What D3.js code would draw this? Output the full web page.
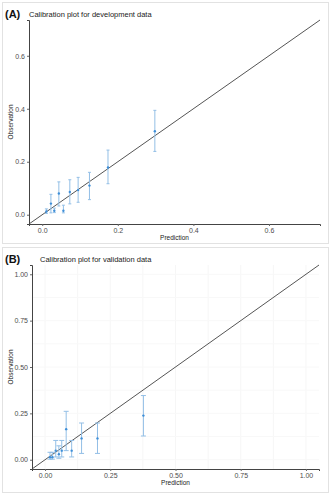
<!DOCTYPE html>
<html lang="en">
<head>
<meta charset="utf-8">
<script src="https://d3js.org/d3.v7.min.js"></script>
<style>
  body { margin: 0; background: #fff; }
  text { font-family: "Liberation Sans", Arial, sans-serif; }
</style>
</head>
<body>
<script>
// development data (A)
var devPred = [0.011, 0.023, 0.032, 0.044, 0.056, 0.073, 0.095, 0.125, 0.174, 0.298];
var devObs  = [0.012, 0.042, 0.015, 0.080, 0.015, 0.086, 0.093, 0.110, 0.178, 0.315];
var devLo   = [0.005, 0.007, 0.008, 0.033, 0.007, 0.041, 0.047, 0.057, 0.117, 0.239];
var devHi   = [0.022, 0.077, 0.025, 0.124, 0.036, 0.132, 0.141, 0.160, 0.244, 0.394];
var devTicks = [0, 0.2, 0.4, 0.6];

// validation data (B)
var valPred = [0.019, 0.028, 0.041, 0.053, 0.064, 0.081, 0.102, 0.140, 0.201, 0.377];
var valObs  = [0.014, 0.014, 0.049, 0.030, 0.049, 0.165, 0.049, 0.115, 0.115, 0.238];
var valLo   = [0.003, 0.003, 0.015, 0.008, 0.015, 0.049, 0.015, 0.034, 0.034, 0.128];
var valHi   = [0.040, 0.040, 0.104, 0.075, 0.104, 0.261, 0.104, 0.198, 0.198, 0.346];
var valTicks = [0, 0.25, 0.5, 0.75, 1];

var width = 331, height = 495;

var svg = d3.select("body").append("svg")
  .attr("width", width)
  .attr("height", height);

// light frames round each panel
svg.append("rect").attr("x", 2.5).attr("y", 2.5).attr("width", 326).attr("height", 241)
  .attr("fill", "none").attr("stroke", "#e2e2e2");
svg.append("rect").attr("x", 2.5).attr("y", 247.5).attr("width", 326).attr("height", 245)
  .attr("fill", "none").attr("stroke", "#e2e2e2");

function drawPanel(o) {
  var x = d3.scaleLinear().domain(o.domain).range([o.left, o.right]);
  var y = d3.scaleLinear().domain(o.domain).range([o.bottom, o.top]);
  var g = svg.append("g");

  if (o.grid) {
    var minor = d3.range(o.domain[0], o.domain[1], 0.125)
      .map(function(v) { return Math.round(v / 0.125) * 0.125; })
      .filter(function(v) { return v >= o.domain[0] && v <= o.domain[1]; });
    g.selectAll(".gx").data(minor).enter().append("line")
      .attr("x1", function(d) { return x(d); }).attr("x2", function(d) { return x(d); })
      .attr("y1", o.top).attr("y2", o.bottom)
      .attr("stroke", "#f6f6f6").attr("stroke-width", 1);
    g.selectAll(".gy").data(minor).enter().append("line")
      .attr("y1", function(d) { return y(d); }).attr("y2", function(d) { return y(d); })
      .attr("x1", o.left).attr("x2", o.right)
      .attr("stroke", "#f8f8f8").attr("stroke-width", 1);
  }

  // reference diagonal
  g.append("line")
    .attr("x1", x(o.domain[0])).attr("y1", y(o.domain[0]))
    .attr("x2", x(o.domain[1])).attr("y2", y(o.domain[1]))
    .attr("stroke", "#555").attr("stroke-width", 1);

  var idx = d3.range(o.pred.length);
  var cap = o.cap;

  // error bars
  var bars = g.selectAll(".bar").data(idx).enter().append("g")
    .attr("stroke", "#93bfe6").attr("stroke-width", 1);
  bars.append("line")
    .attr("x1", function(i) { return x(o.pred[i]); }).attr("x2", function(i) { return x(o.pred[i]); })
    .attr("y1", function(i) { return y(o.lo[i]); }).attr("y2", function(i) { return y(o.hi[i]); });
  bars.append("line")
    .attr("x1", function(i) { return x(o.pred[i]) - cap; }).attr("x2", function(i) { return x(o.pred[i]) + cap; })
    .attr("y1", function(i) { return y(o.hi[i]); }).attr("y2", function(i) { return y(o.hi[i]); });
  bars.append("line")
    .attr("x1", function(i) { return x(o.pred[i]) - cap; }).attr("x2", function(i) { return x(o.pred[i]) + cap; })
    .attr("y1", function(i) { return y(o.lo[i]); }).attr("y2", function(i) { return y(o.lo[i]); });

  g.selectAll(".pt").data(idx).enter().append("circle")
    .attr("cx", function(i) { return x(o.pred[i]); })
    .attr("cy", function(i) { return y(o.obs[i]); })
    .attr("r", 1.2)
    .attr("fill", "#3f8fd8");

  // axes
  var xAxis = g.append("g").attr("transform", "translate(0," + o.bottom + ")")
    .call(d3.axisBottom(x).tickValues(o.ticks).tickSize(2).tickPadding(2).tickFormat(d3.format(o.fmt)));
  var yAxis = g.append("g").attr("transform", "translate(" + o.left + ",0)")
    .call(d3.axisLeft(y).tickValues(o.ticks).tickSize(2).tickPadding(2).tickFormat(d3.format(o.fmt)));
  [xAxis, yAxis].forEach(function(a) {
    a.select(".domain").attr("stroke", "#444").attr("stroke-width", 1);
    a.selectAll(".tick line").attr("stroke", "#666");
    a.selectAll(".tick text").attr("fill", "#4d4d4d").style("font-size", "7px")
      .style("font-family", "Liberation Sans, Arial, sans-serif");
  });

  g.append("text").attr("x", (o.left + o.right) / 2).attr("y", o.bottom + 16)
    .attr("text-anchor", "middle").attr("fill", "#222").style("font-size", "6.5px")
    .text("Prediction");
  g.append("text")
    .attr("transform", "translate(" + 13 + "," + ((o.top + o.bottom) / 2) + ") rotate(-90)")
    .attr("text-anchor", "middle").attr("fill", "#222").style("font-size", "6.5px")
    .text("Observation");

  svg.append("text").attr("x", 5).attr("y", o.titleY + 1)
    .style("font-size", "11px").style("font-weight", "bold").style("fill", "#111")
    .text(o.tag);
  svg.append("text").attr("x", o.titleX).attr("y", o.titleY)
    .style("font-size", "7.5px").style("fill", "#1a1a1a")
    .text(o.title);
}

drawPanel({
  pred: devPred, obs: devObs, lo: devLo, hi: devHi, ticks: devTicks, fmt: ".1f",
  domain: [-0.035, 0.735], left: 29, right: 320, top: 20, bottom: 224,
  cap: 1.5, grid: false,
  tag: "(A)", title: "Calibration plot for development data", titleX: 29, titleY: 17
});

drawPanel({
  pred: valPred, obs: valObs, lo: valLo, hi: valHi, ticks: valTicks, fmt: ".2f",
  domain: [-0.05, 1.05], left: 32, right: 319, top: 265, bottom: 469,
  cap: 2.5, grid: true,
  tag: "(B)", title: "Calibration plot for validation data", titleX: 40, titleY: 262
});
</script>
</body>
</html>
